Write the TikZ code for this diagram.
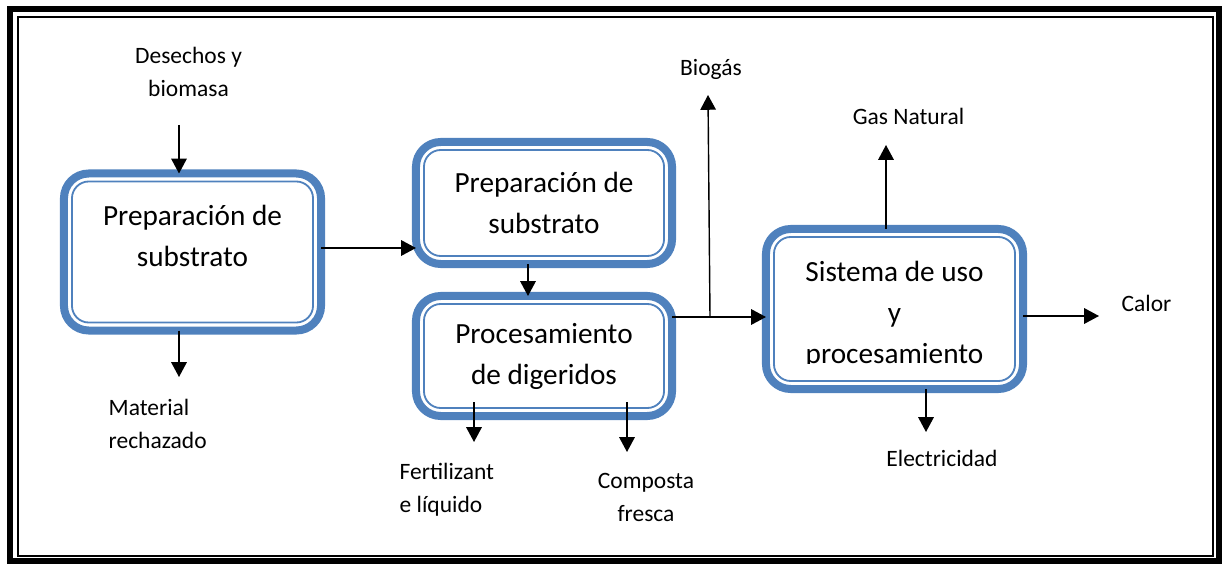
\documentclass[tikz,border=0pt]{standalone}
\usepackage{fontspec}
\setmainfont{Carlito}
\usetikzlibrary{arrows.meta}
\definecolor{accentblue}{RGB}{79,129,189}

\begin{document}
\begin{tikzpicture}[x=0.025cm, y=-0.025cm, line width=1pt,
  >={Triangle[length=10.5pt, width=11pt]},
  procbox/.style={draw=accentblue, line width=5.7pt, rounded corners=0.62cm,
    outer sep=0pt, inner sep=0pt, align=center,
    font=\fontsize{20.8}{29.2}\selectfont,
    path picture={\draw[accentblue, line width=1.3pt, rounded corners=0.42cm]
      ([shift={(0.2cm,-0.2cm)}]path picture bounding box.north west) rectangle
      ([shift={(-0.2cm,0.2cm)}]path picture bounding box.south east);}},
  flowlabel/.style={inner sep=0pt, align=center, font=\fontsize{16.7}{23.5}\selectfont}]

\useasboundingbox (0,0) rectangle (1223,564);
\draw[line width=4.3pt] (10,9) rectangle (1219,561);
\draw[line width=1.1pt] (18,17) rectangle (1213,556);

% boxes
\node[procbox, minimum width=6.425cm, minimum height=3.925cm, text depth=0.8cm] (prep1) at (192.5,252) {Preparación de\\substrato};
\node[procbox, minimum width=6.4cm, minimum height=3.05cm] (prep2) at (544,203) {Preparación de\\substrato};
\node[procbox, minimum width=6.4cm, minimum height=3cm] (dig) at (544,356) {Procesamiento\\de digeridos};
\node[procbox, minimum width=6.425cm, minimum height=4cm] (uso) at (894.5,309) {};
\begin{scope}
\clip (760,225) rectangle (1030,363);
\node[flowlabel, font=\fontsize{20.8}{29.2}\selectfont] (usotext) at (894.5,315) {Sistema de uso\\y\\procesamiento};
\end{scope}

% labels
\node[flowlabel] (des) at (188.5,72) {Desechos y\\biomasa};
\node[flowlabel, anchor=west, align=left] (mat) at (108,423.5) {Material\\rechazado};
\node[flowlabel, anchor=west, align=left] (fert) at (399,490) {Fertilizant\\e líquido};
\node[flowlabel] (comp) at (646,497.5) {Composta\\fresca};
\node[flowlabel, anchor=base] (bio) at (711,76) {Biogás};
\node[flowlabel, anchor=base] (gas) at (908.5,125) {Gas Natural};
\node[flowlabel, anchor=base] (calor) at (1146.5,311) {Calor};
\node[flowlabel, anchor=base] (elec) at (942,466) {Electricidad};

% free ends
\coordinate (desin) at (179,125);
\coordinate (matout) at (179,377);
\coordinate (fertout) at (474,442);
\coordinate (compout) at (627,452);
\coordinate (split) at (710,317);
\coordinate (bioout) at (708,95);
\coordinate (gasout) at (886,145);
\coordinate (elecout) at (926,432);
\coordinate (calorout) at (1099,316);

\draw[->] (desin) -- (desin |- prep1.north);
\draw[->] (prep1.south -| matout) -- (matout);
\draw[->] ([yshift=0.1cm]prep1.east) -- ([yshift=0.1cm]prep1.east -| prep2.west);
\draw[->] ([xshift=-0.4cm]prep2.south) -- ([xshift=-0.4cm]dig.north);
\draw[->] ([yshift=0.35cm]dig.south -| fertout) -- (fertout);
\draw[->] ([yshift=0.35cm]dig.south -| compout) -- (compout);
\draw[->] (dig.east |- split) -- (split -| uso.west);
\draw[->] (split) -- (bioout);
\draw[->] (uso.north -| gasout) -- (gasout);
\draw[->] (uso.south -| elecout) -- (elecout);
\draw[->] (uso.east |- calorout) -- (calorout);
\end{tikzpicture}
\end{document}
